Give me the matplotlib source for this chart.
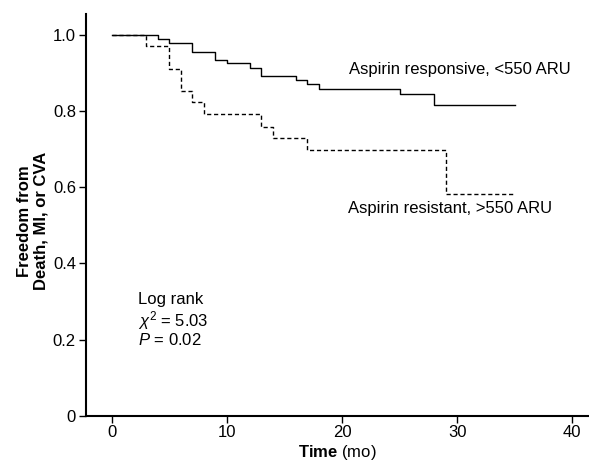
import matplotlib
matplotlib.use('Agg')
import matplotlib.pyplot as plt

plt.rcParams['font.family'] = ['Liberation Sans', 'DejaVu Sans']
plt.rcParams['mathtext.fontset'] = 'custom'
plt.rcParams['mathtext.rm'] = 'Liberation Sans'
plt.rcParams['mathtext.it'] = 'Liberation Sans:italic'
plt.rcParams['mathtext.bf'] = 'Liberation Sans:bold'

# Kaplan-Meier curves
resp_time = [0, 4, 5, 7, 9, 10, 12, 13, 16, 17, 18, 25, 28, 35]
resp_surv = [1.0, 0.989, 0.979, 0.956, 0.935, 0.926, 0.913, 0.892, 0.881, 0.870, 0.859, 0.844, 0.816, 0.816]

resist_time = [0, 3, 5, 6, 7, 8, 13, 14, 17, 29, 35]
resist_surv = [1.0, 0.970, 0.911, 0.853, 0.823, 0.792, 0.759, 0.729, 0.697, 0.581, 0.581]

xticks = [0, 10, 20, 30, 40]
yticks = [0, 0.2, 0.4, 0.6, 0.8, 1.0]
ytick_labels = ['0', '0.2', '0.4', '0.6', '0.8', '1.0']

fig = plt.figure(figsize=(5.89, 4.63), dpi=100)
ax = fig.add_axes([0.1455, 0.1022, 0.8545, 0.8676])

ax.step(resp_time, resp_surv, where='post', color='black', lw=1.0)
ax.step(resist_time, resist_surv, where='post', color='black', lw=1.0,
        linestyle=(0, (3, 2)))

ax.text(20.6, 0.908, 'Aspirin responsive, <550 ARU', fontsize=12, va='center')
ax.text(20.5, 0.545, 'Aspirin resistant, >550 ARU', fontsize=12, va='center')

ax.text(2.3, 0.306, 'Log rank', fontsize=12, va='center')
ax.text(2.3, 0.251, r'$\chi^2$ = 5.03', fontsize=12, va='center')
ax.text(2.3, 0.199, r'$P$ = 0.02', fontsize=12, va='center')

ax.set_xlim(-2.26, 41.45)
ax.set_ylim(0, 1.055)
ax.set_xticks(xticks)
ax.set_yticks(yticks)
ax.set_yticklabels(ytick_labels)
ax.tick_params(direction='out', length=5, width=1, labelsize=12, pad=2)

ax.spines['top'].set_visible(False)
ax.spines['right'].set_visible(False)
ax.spines['left'].set_linewidth(1.5)
ax.spines['bottom'].set_linewidth(1.5)

ax.set_xlabel(r'$\bf{Time}$ (mo)', fontsize=12, labelpad=2)
ax.set_ylabel('Freedom from\nDeath, MI, or CVA', fontsize=12, fontweight='bold',
              linespacing=1.15)
ax.yaxis.set_label_coords(-0.073, 0.485)

fig.savefig('out.png', dpi=100)
